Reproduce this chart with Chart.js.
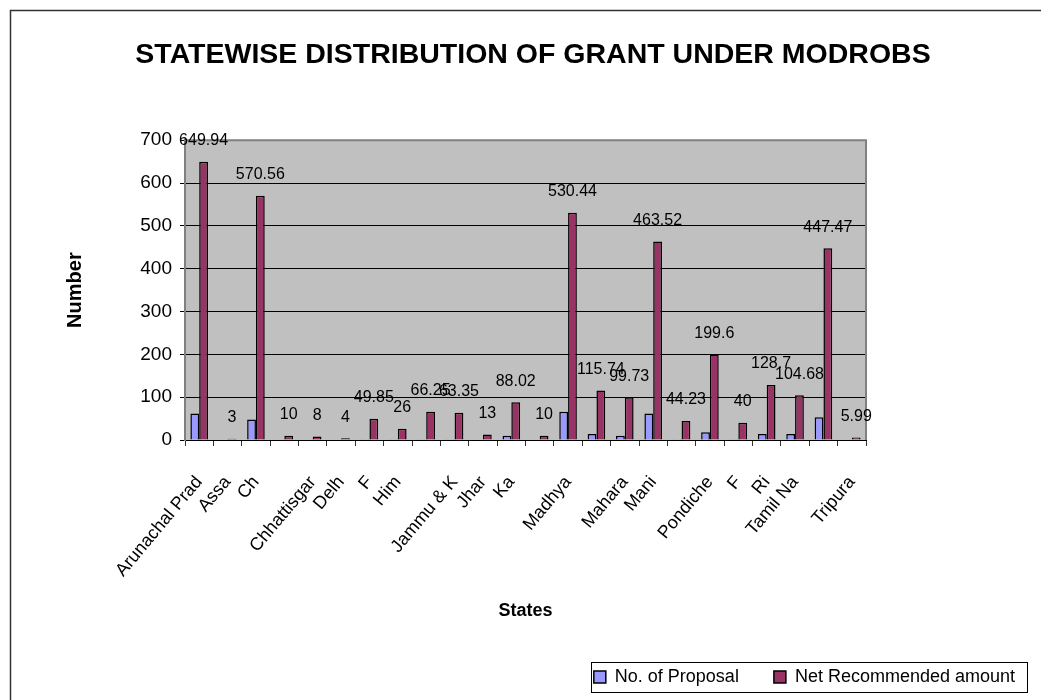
<!DOCTYPE html>
<html>
<head>
<meta charset="utf-8">
<script src="https://cdn.jsdelivr.net/npm/chart.js@4/dist/chart.umd.min.js"></script>
<style>
    html, body { margin: 0; padding: 0; background: #fff; }
    #wrap { width: 1041px; height: 700px; }
</style>
</head>
<body>
<div id="wrap"><canvas id="chart" width="1041" height="700"></canvas></div>
<script>
// Datos
const states = ['Arunachal Prad', 'Assa', 'Ch', '', 'Chhattisgar', 'Delh', 'F', 'Him', '',
    'Jammu & K', 'Jhar', 'Ka', '', 'Madhya', '', 'Mahara', 'Mani', '', 'Pondiche', 'F',
    'Ri', 'Tamil Na', '', 'Tripura'];
const proposals = [62, 1, 48, 1, 1, 1, 2, 2, 2, 2, 1, 10, 1, 66, 14, 10, 62, 2, 18, 2, 14, 14, 53, 1];
const amounts = [649.94, 3, 570.56, 10, 8, 4, 49.85, 26, 66.25, 63.35, 13, 88.02, 10, 530.44,
    115.74, 99.73, 463.52, 44.23, 199.6, 40, 128.7, 104.68, 447.47, 5.99];
const seriesNames = ['No. of Proposal', 'Net Recommended amount'];
const FONT = "Arial, 'Liberation Sans', sans-serif";

// Fondo gris del area de trazado
const plotBackground = {
    id: 'plotBackground',
    beforeDraw(chart) {
        const {ctx, chartArea} = chart;
        ctx.save();
        ctx.fillStyle = '#C0C0C0';
        ctx.fillRect(chartArea.left, chartArea.top, chartArea.right - chartArea.left, chartArea.bottom - chartArea.top);
        ctx.restore();
    }
};

// Borde del area de trazado y etiquetas de valores
const valueLabels = {
    id: 'valueLabels',
    afterDatasetsDraw(chart) {
        const {ctx, chartArea} = chart;
        ctx.save();
        ctx.strokeStyle = '#808080';
        ctx.lineWidth = 2;
        ctx.beginPath();
        ctx.moveTo(chartArea.left, chartArea.top);
        ctx.lineTo(chartArea.right, chartArea.top);
        ctx.lineTo(chartArea.right, chartArea.bottom);
        ctx.stroke();
        ctx.fillStyle = '#000';
        ctx.font = '16px ' + FONT;
        ctx.textAlign = 'center';
        ctx.textBaseline = 'middle';
        chart.getDatasetMeta(1).data.forEach((bar, i) => {
            ctx.fillText(String(amounts[i]), bar.x, bar.y - 21);
        });
        ctx.restore();
    }
};

// Marco exterior y recuadro de la leyenda
const frame = {
    id: 'frame',
    afterDraw(chart) {
        const {ctx} = chart;
        ctx.save();
        ctx.strokeStyle = '#333';
        ctx.lineWidth = 1.5;
        ctx.beginPath();
        ctx.moveTo(10.5, 700);
        ctx.lineTo(10.5, 10.5);
        ctx.lineTo(1041, 10.5);
        ctx.stroke();
        const boxes = chart.legend.legendHitBoxes;
        if (boxes && boxes.length) {
            const first = boxes[0];
            const last = boxes[boxes.length - 1];
            const mid = first.top + first.height / 2;
            ctx.strokeStyle = '#000';
            ctx.lineWidth = 1;
            ctx.strokeRect(Math.round(first.left - 3) + 0.5, Math.round(mid - 15) + 0.5,
                Math.round(last.left + last.width + 12 - (first.left - 3)), 30);
        }
        ctx.restore();
    }
};

const CONTEXT = document.getElementById('chart').getContext('2d');
const CHART = new Chart(CONTEXT, {
    type: 'bar',
    data: {
        labels: states,
        datasets: [{
            label: seriesNames[0],
            data: proposals,
            backgroundColor: '#9999FF',
            borderColor: '#000',
            borderWidth: 1.5,
            yAxisID: 'y'
        }, {
            label: seriesNames[1],
            data: amounts,
            backgroundColor: '#993366',
            borderColor: '#000',
            borderWidth: 1.5,
            yAxisID: 'y'
        }]
    },
    options: {
        responsive: false,
        animation: false,
        events: [],
        categoryPercentage: 0.62,
        barPercentage: 1,
        layout: {
            padding: {left: 41, right: 16, top: 0, bottom: 4}
        },
        plugins: {
            title: {
                display: true,
                text: 'STATEWISE DISTRIBUTION OF GRANT UNDER MODROBS',
                color: '#000',
                font: {family: FONT, size: 28.5, weight: 'bold'},
                padding: {top: 38, bottom: 68}
            },
            legend: {
                position: 'bottom',
                align: 'end',
                labels: {
                    color: '#000',
                    font: {family: FONT, size: 18},
                    boxWidth: 12,
                    boxHeight: 12,
                    padding: 10,
                    generateLabels(chart) {
                        const items = Chart.defaults.plugins.legend.labels.generateLabels(chart);
                        // espacio extra entre los dos elementos de la leyenda
                        items[0].text = items[0].text + '     ';
                        return items;
                    }
                }
            },
            tooltip: {enabled: false}
        },
        scales: {
            x: {
                grid: {
                    drawOnChartArea: false,
                    drawTicks: true,
                    tickLength: 6,
                    color: '#333'
                },
                border: {color: '#000', width: 1},
                ticks: {
                    autoSkip: false,
                    minRotation: 50,
                    maxRotation: 50,
                    padding: 26,
                    color: '#000',
                    font: {family: FONT, size: 18}
                },
                title: {
                    display: true,
                    text: 'States',
                    color: '#000',
                    font: {family: FONT, size: 18, weight: 'bold'},
                    padding: {top: 4, bottom: 36.6}
                },
                afterFit(scale) {
                    scale.height = 218;
                }
            },
            y: {
                min: 0,
                max: 700,
                ticks: {
                    stepSize: 100,
                    padding: 8,
                    color: '#000',
                    font: {family: FONT, size: 19}
                },
                grid: {
                    color: '#000',
                    lineWidth: 1,
                    tickLength: 5
                },
                border: {color: '#808080', width: 2},
                title: {
                    display: true,
                    text: 'Number',
                    color: '#000',
                    font: {family: FONT, size: 20, weight: 'bold'},
                    padding: {top: 22, bottom: 0}
                },
                afterFit(scale) {
                    scale.width = 144;
                }
            },
            yRight: {
                type: 'linear',
                position: 'right',
                display: true,
                grid: {display: false},
                border: {display: false},
                ticks: {display: false},
                afterFit(scale) {
                    scale.width = 159;
                }
            }
        }
    },
    plugins: [plotBackground, valueLabels, frame]
});
</script>
</body>
</html>
